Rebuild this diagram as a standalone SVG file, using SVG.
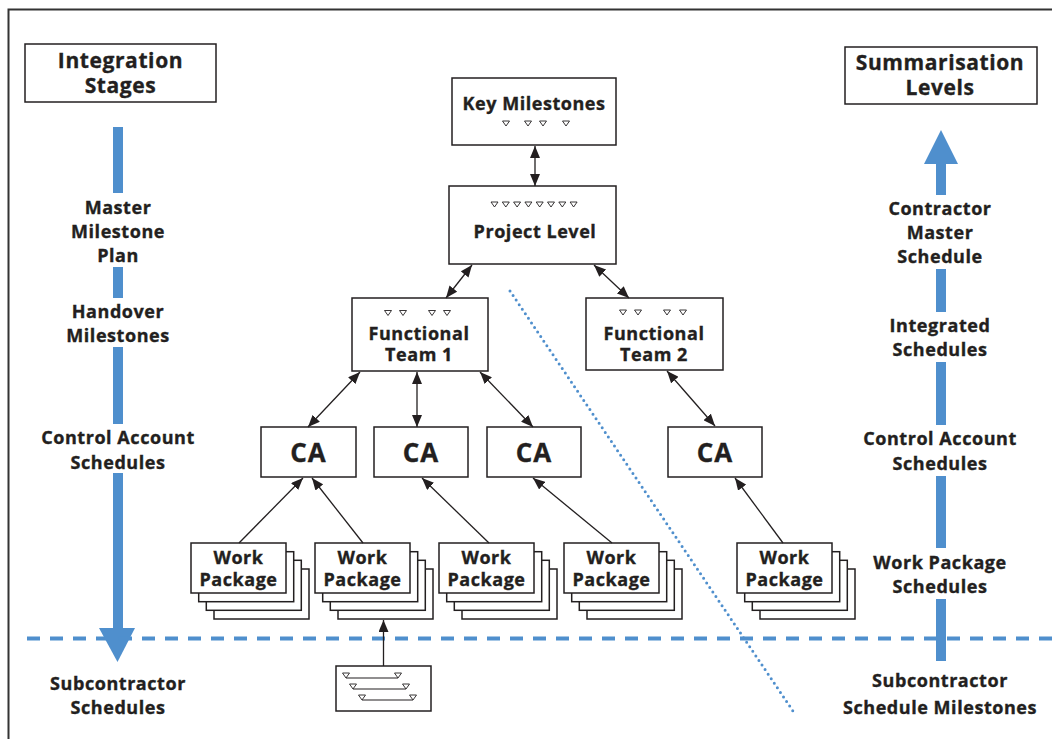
<svg xmlns="http://www.w3.org/2000/svg" width="1052" height="739" viewBox="0 0 1052 739">
<defs>
<style>
.box{fill:#fff;stroke:#231f20;stroke-width:1.5}
.t{font-family:"Open Sans","Liberation Sans",sans-serif;font-weight:700;fill:#231f20;stroke:#231f20;stroke-width:0.35;text-anchor:middle}
.lbl{font-size:18px;letter-spacing:0.55px}
.hdr{font-size:21px;letter-spacing:0.6px}
.ca{font-size:26px;letter-spacing:1px}
.ms{fill:#fff;stroke:#231f20;stroke-width:0.9}
.conn{stroke:#231f20;stroke-width:1.3;fill:none}
.bar{fill:#4f8fcd}
</style>
<marker id="ah" markerUnits="userSpaceOnUse" markerWidth="12" markerHeight="10" refX="12" refY="5" orient="auto-start-reverse" viewBox="0 0 12 10">
<path d="M0,0 L12,5 L0,10 z" fill="#231f20"/>
</marker>
<g id="wpstack">
<rect class="box" x="23" y="26" width="95" height="50"/>
<rect class="box" x="15.3" y="17.3" width="95" height="50"/>
<rect class="box" x="7.7" y="8.7" width="95" height="50"/>
<rect class="box" x="0" y="0" width="95" height="50"/>
</g>
<path id="tri" d="M-3.5,0 L3.5,0 L0,5 z"/>
</defs>
<rect width="1052" height="739" fill="#fff"/>
<!-- frame -->
<path d="M8.5,739 V9.5 H1052" fill="none" stroke="#333" stroke-width="2"/>

<!-- headers -->
<g id="hdr-left">
<rect class="box" x="25" y="44" width="191" height="58"/>
<text class="t hdr"><tspan x="120.5" y="68">Integration</tspan><tspan x="120.5" y="93">Stages</tspan></text>
</g>
<g id="hdr-right">
<rect class="box" x="845" y="47" width="192" height="57"/>
<text class="t hdr"><tspan x="940" y="70">Summarisation</tspan><tspan x="940" y="95">Levels</tspan></text>
</g>

<!-- left bar -->
<g id="left-stages">
<rect class="bar" x="113" y="127" width="10" height="66"/>
<rect class="bar" x="113" y="267" width="10" height="31"/>
<rect class="bar" x="113" y="347" width="10" height="77"/>
<rect class="bar" x="113" y="473" width="10" height="156"/>
<path class="bar" d="M99,628 L135,628 L117.5,662 z"/>
<text class="t lbl"><tspan x="118" y="214">Master</tspan><tspan x="118" y="238">Milestone</tspan><tspan x="118" y="262">Plan</tspan></text>
<text class="t lbl"><tspan x="118" y="318">Handover</tspan><tspan x="118" y="342">Milestones</tspan></text>
<text class="t lbl"><tspan x="118" y="444">Control Account</tspan><tspan x="118" y="469">Schedules</tspan></text>
<text class="t lbl"><tspan x="118" y="690">Subcontractor</tspan><tspan x="118" y="714">Schedules</tspan></text>
</g>

<!-- right bar -->
<g id="right-levels">
<path class="bar" d="M924,164 L958,164 L941,130 z"/>
<rect class="bar" x="936" y="163" width="10" height="32"/>
<rect class="bar" x="936" y="269" width="10" height="43"/>
<rect class="bar" x="936" y="362" width="10" height="63"/>
<rect class="bar" x="936" y="476" width="10" height="72"/>
<rect class="bar" x="936" y="599" width="10" height="62"/>
<text class="t lbl"><tspan x="940" y="215">Contractor</tspan><tspan x="940" y="239">Master</tspan><tspan x="940" y="263">Schedule</tspan></text>
<text class="t lbl"><tspan x="940" y="332">Integrated</tspan><tspan x="940" y="356">Schedules</tspan></text>
<text class="t lbl"><tspan x="940" y="445">Control Account</tspan><tspan x="940" y="470">Schedules</tspan></text>
<text class="t lbl"><tspan x="940" y="569">Work Package</tspan><tspan x="940" y="593">Schedules</tspan></text>
<text class="t lbl"><tspan x="940" y="687">Subcontractor</tspan><tspan x="940" y="714">Schedule Milestones</tspan></text>
</g>

<!-- dashed & dotted lines -->
<line x1="27" y1="638.5" x2="1052" y2="638.5" stroke="#4f8fcd" stroke-width="4" stroke-dasharray="13 10"/>
<line x1="510" y1="291" x2="795" y2="714" stroke="#4f8fcd" stroke-width="3" stroke-linecap="round" stroke-dasharray="0 5.5"/>

<!-- nodes -->
<g id="key-milestones">
<rect class="box" x="452" y="78" width="164" height="67"/>
<text class="t lbl" x="534" y="110">Key Milestones</text>
<use href="#tri" class="ms" x="506" y="121"/>
<use href="#tri" class="ms" x="528" y="121"/>
<use href="#tri" class="ms" x="543" y="121"/>
<use href="#tri" class="ms" x="566" y="121"/>
</g>
<g id="project-level">
<rect class="box" x="449" y="186" width="167" height="78"/>
<text class="t lbl" x="535" y="238">Project Level</text>
<use href="#tri" class="ms" x="494.5" y="202"/>
<use href="#tri" class="ms" x="505.8" y="202"/>
<use href="#tri" class="ms" x="517.1" y="202"/>
<use href="#tri" class="ms" x="528.4" y="202"/>
<use href="#tri" class="ms" x="539.7" y="202"/>
<use href="#tri" class="ms" x="551" y="202"/>
<use href="#tri" class="ms" x="562.3" y="202"/>
<use href="#tri" class="ms" x="573.6" y="202"/>
</g>
<g id="ft1">
<rect class="box" x="352" y="298" width="136" height="73"/>
<text class="t lbl"><tspan x="419" y="340">Functional</tspan><tspan x="419" y="361">Team 1</tspan></text>
<use href="#tri" class="ms" x="388" y="310.5"/>
<use href="#tri" class="ms" x="403" y="310.5"/>
<use href="#tri" class="ms" x="432" y="310.5"/>
<use href="#tri" class="ms" x="447" y="310.5"/>
</g>
<g id="ft2">
<rect class="box" x="586" y="298" width="137" height="72"/>
<text class="t lbl"><tspan x="654" y="340">Functional</tspan><tspan x="654" y="361">Team 2</tspan></text>
<use href="#tri" class="ms" x="623" y="310"/>
<use href="#tri" class="ms" x="638" y="310"/>
<use href="#tri" class="ms" x="667" y="310"/>
<use href="#tri" class="ms" x="683" y="310"/>
</g>
<g id="ca1">
<rect class="box" x="261" y="427" width="95" height="50"/>
<text class="t ca" x="308.5" y="462">CA</text>
</g>
<g id="ca2">
<rect class="box" x="374" y="427" width="94" height="50"/>
<text class="t ca" x="421" y="462">CA</text>
</g>
<g id="ca3">
<rect class="box" x="487" y="427" width="94" height="50"/>
<text class="t ca" x="534" y="462">CA</text>
</g>
<g id="ca4">
<rect class="box" x="668" y="427" width="94" height="50"/>
<text class="t ca" x="715" y="462">CA</text>
</g>
<g id="wp1">
<use href="#wpstack" x="191" y="543"/>
<text class="t lbl"><tspan x="238.5" y="564">Work</tspan><tspan x="238.5" y="586">Package</tspan></text>
</g>
<g id="wp2">
<use href="#wpstack" x="315" y="543"/>
<text class="t lbl"><tspan x="362.5" y="564">Work</tspan><tspan x="362.5" y="586">Package</tspan></text>
</g>
<g id="wp3">
<use href="#wpstack" x="439" y="543"/>
<text class="t lbl"><tspan x="486.5" y="564">Work</tspan><tspan x="486.5" y="586">Package</tspan></text>
</g>
<g id="wp4">
<use href="#wpstack" x="564" y="543"/>
<text class="t lbl"><tspan x="611.5" y="564">Work</tspan><tspan x="611.5" y="586">Package</tspan></text>
</g>
<g id="wp5">
<use href="#wpstack" x="737" y="543"/>
<text class="t lbl"><tspan x="784.5" y="564">Work</tspan><tspan x="784.5" y="586">Package</tspan></text>
</g>
<g id="subcontractor-schedule">
<rect class="box" x="336" y="666" width="95" height="45"/>
<line x1="346" y1="678" x2="398" y2="678" stroke="#231f20" stroke-width="1.2"/>
<line x1="353" y1="689" x2="406" y2="689" stroke="#231f20" stroke-width="1.2"/>
<line x1="362" y1="700" x2="413" y2="700" stroke="#231f20" stroke-width="1.2"/>
<use href="#tri" class="ms" x="346" y="673"/>
<use href="#tri" class="ms" x="398" y="673"/>
<use href="#tri" class="ms" x="353" y="684"/>
<use href="#tri" class="ms" x="406" y="684"/>
<use href="#tri" class="ms" x="362" y="695"/>
<use href="#tri" class="ms" x="413" y="695"/>
</g>

<!-- connectors -->
<g id="connectors">
<line class="conn" x1="535" y1="146" x2="535" y2="186" marker-start="url(#ah)" marker-end="url(#ah)"/>
<line class="conn" x1="472" y1="265" x2="446" y2="298" marker-start="url(#ah)" marker-end="url(#ah)"/>
<line class="conn" x1="594" y1="265" x2="629" y2="298" marker-start="url(#ah)" marker-end="url(#ah)"/>
<line class="conn" x1="360" y1="372" x2="308" y2="427" marker-start="url(#ah)" marker-end="url(#ah)"/>
<line class="conn" x1="417" y1="372" x2="417" y2="427" marker-start="url(#ah)" marker-end="url(#ah)"/>
<line class="conn" x1="480" y1="372" x2="533" y2="427" marker-start="url(#ah)" marker-end="url(#ah)"/>
<line class="conn" x1="667" y1="371" x2="715" y2="426" marker-start="url(#ah)" marker-end="url(#ah)"/>
<line class="conn" x1="239" y1="543" x2="303" y2="478" marker-end="url(#ah)"/>
<line class="conn" x1="363" y1="543" x2="312" y2="478" marker-end="url(#ah)"/>
<line class="conn" x1="489" y1="543" x2="422" y2="478" marker-end="url(#ah)"/>
<line class="conn" x1="612" y1="543" x2="533" y2="478" marker-end="url(#ah)"/>
<line class="conn" x1="783" y1="543" x2="735" y2="478" marker-end="url(#ah)"/>
<line class="conn" x1="383.5" y1="666" x2="383.5" y2="620" marker-end="url(#ah)"/>
</g>
</svg>
